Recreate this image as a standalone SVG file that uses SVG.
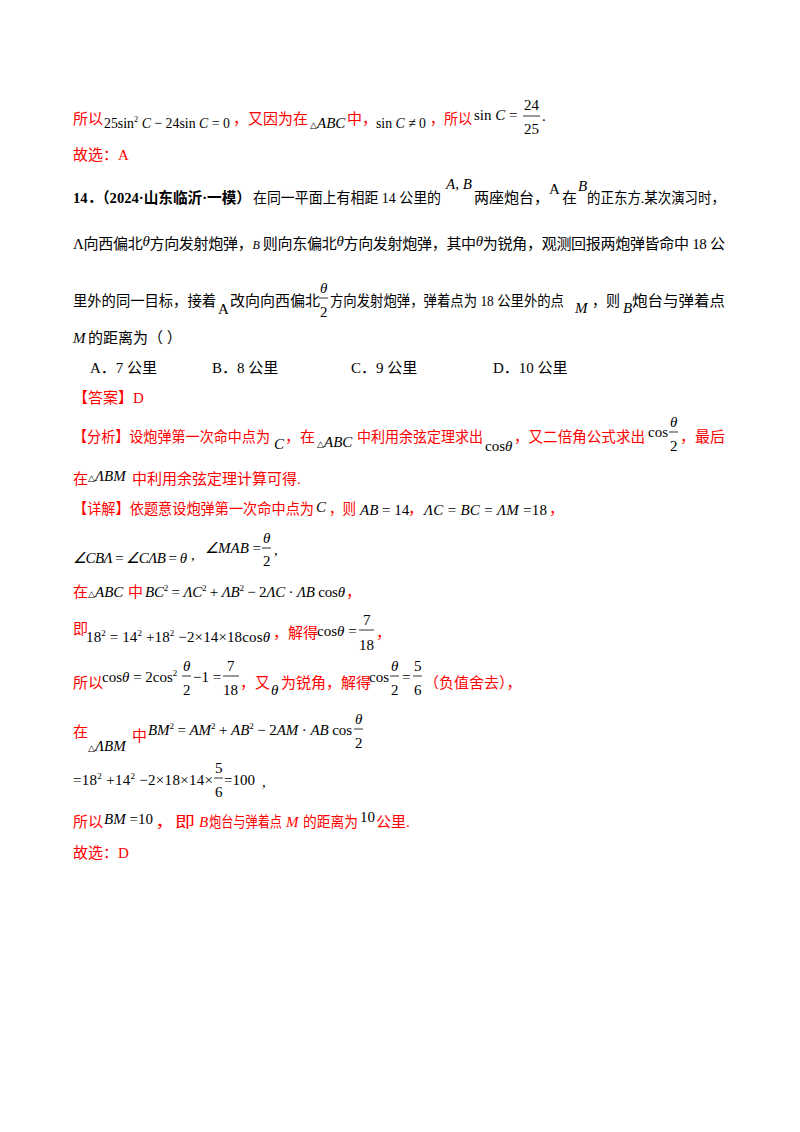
<svg xmlns="http://www.w3.org/2000/svg" width="800" height="1132" viewBox="0 0 800 1132">
<style>
text{font-family:"Liberation Serif","Noto Sans CJK SC",serif;font-size:15px;fill:#000}
.r{fill:#ff0000}
.m{font-family:"Liberation Serif",serif;font-style:italic}
.n{font-family:"Liberation Serif",serif;font-style:normal}
.s{font-size:9px}
.b{font-weight:bold}
line{stroke:#000;stroke-width:0.8}
</style>
<rect width="800" height="1132" fill="#fff"/>
<!-- line 1 -->
<text x="73" y="124" class="r">所以</text>
<text x="104" y="128" class="n" textLength="126" lengthAdjust="spacingAndGlyphs">25sin<tspan class="s" dy="-6">2</tspan><tspan dy="6" class="m"> C</tspan> − 24sin<tspan class="m"> C</tspan> = 0</text>
<text x="233" y="124" class="r">，又因为在</text>
<text x="310" y="128" class="m"><tspan class="s n">△</tspan>ABC</text>
<text x="347" y="124" class="r">中，</text>
<text x="376" y="128" class="n" textLength="50" lengthAdjust="spacingAndGlyphs">sin<tspan class="m"> C</tspan> ≠ 0</text>
<text x="430" y="124" class="r" textLength="42" lengthAdjust="spacingAndGlyphs">，所以</text>
<text x="474" y="120" class="n">sin<tspan class="m"> C</tspan> =</text>
<text x="524" y="110" class="n">24</text><line x1="523" y1="116" x2="540" y2="116"/><text x="524" y="134" class="n">25</text>
<text x="542" y="121" class="n">.</text>
<text x="73" y="160" class="r">故选：A</text>
<!-- question -->
<text x="73" y="203" class="b" textLength="178" lengthAdjust="spacingAndGlyphs">14．（2024·山东临沂·一模）</text>
<text x="253" y="203" textLength="188" lengthAdjust="spacingAndGlyphs">在同一平面上有相距 14 公里的</text>
<text x="446" y="189" class="m">A, B</text>
<text x="474" y="203">两座炮台，</text>
<text x="549" y="194" class="n" font-size="11">A</text>
<text x="562" y="203">在</text>
<text x="578" y="191" class="m" font-size="12">B</text>
<text x="587" y="203" textLength="138" lengthAdjust="spacingAndGlyphs">的正东方.某次演习时，</text>
<text x="73" y="249" textLength="652" lengthAdjust="spacing"><tspan class="n">Λ</tspan>向西偏北<tspan class="m" dy="-3">θ</tspan><tspan dy="3">方向发射炮弹，</tspan><tspan class="m" font-size="12">B</tspan> 则向东偏北<tspan class="m" dy="-3">θ</tspan><tspan dy="3">方向发射炮弹，其中</tspan><tspan class="m" dy="-3">θ</tspan><tspan dy="3">为锐角，观测回报两炮弹皆命中 18 公</tspan></text>
<text x="73" y="306" textLength="143" lengthAdjust="spacingAndGlyphs">里外的同一目标，接着</text>
<text x="218" y="314" class="n" font-size="11">A</text>
<text x="230" y="306">改向向西偏北</text>
<text x="320" y="293" class="m">θ</text><line x1="319" y1="298" x2="328" y2="298"/><text x="320" y="317" class="n">2</text>
<text x="330" y="306" textLength="234" lengthAdjust="spacingAndGlyphs">方向发射炮弹，弹着点为 18 公里外的点</text>
<text x="575" y="313" class="m">M</text>
<text x="592" y="306" textLength="28" lengthAdjust="spacingAndGlyphs">，则</text>
<text x="623" y="313" class="m" font-size="12">B</text>
<text x="632" y="306" textLength="93" lengthAdjust="spacingAndGlyphs">炮台与弹着点</text>
<text x="73" y="343" class="m">M</text>
<text x="88" y="343">的距离为（    ）</text>
<text x="90" y="373">A．7 公里</text>
<text x="212" y="373">B．8 公里</text>
<text x="351" y="373">C．9 公里</text>
<text x="493" y="373">D．10 公里</text>
<text x="73" y="403" class="r">【答案】D</text>
<!-- analysis -->
<text x="73" y="442" class="r" textLength="197" lengthAdjust="spacingAndGlyphs">【分析】设炮弹第一次命中点为</text>
<text x="274" y="449" class="m">C</text>
<text x="285" y="442" class="r">，在</text>
<text x="317" y="447" class="m"><tspan class="s n">△</tspan>ABC</text>
<text x="357" y="442" class="r" textLength="126" lengthAdjust="spacingAndGlyphs">中利用余弦定理求出</text>
<text x="485" y="451" class="n">cos<tspan class="m">θ</tspan></text>
<text x="514" y="442" class="r" textLength="131" lengthAdjust="spacingAndGlyphs">，又二倍角公式求出</text>
<text x="648" y="437" class="n">cos</text>
<text x="670" y="427" class="m">θ</text><line x1="669" y1="432" x2="678" y2="432"/><text x="670" y="451" class="n">2</text>
<text x="680" y="442" class="r">，最后</text>
<text x="73" y="484" class="r">在</text>
<text x="88" y="481" class="m"><tspan class="s n">△</tspan>ΛBM</text>
<text x="132" y="484" class="r">中利用余弦定理计算可得.</text>
<!-- detail -->
<text x="73" y="514" class="r" textLength="241" lengthAdjust="spacingAndGlyphs">【详解】依题意设炮弹第一次命中点为</text>
<text x="316" y="512" class="m">C</text>
<text x="329" y="514" class="r" textLength="27" lengthAdjust="spacingAndGlyphs">，则</text>
<text x="360" y="515" class="m">AB<tspan class="n"> = 14</tspan></text>
<text x="408" y="514" class="r">，</text>
<text x="424" y="515" class="m" textLength="123" lengthAdjust="spacing">ΛC<tspan class="n"> = </tspan>BC<tspan class="n"> = </tspan>ΛM<tspan class="n"> =18</tspan></text>
<text x="549" y="514" class="r">，</text>
<text x="73" y="563" class="m" textLength="114" lengthAdjust="spacing">∠CBΛ<tspan class="n"> = </tspan>∠CΛB<tspan class="n"> = </tspan>θ</text>
<text x="191" y="560" class="n">,</text>
<text x="205" y="553" class="m">∠MAB<tspan class="n"> =</tspan></text>
<text x="263" y="543" class="m">θ</text><line x1="262" y1="548" x2="271" y2="548"/><text x="263" y="566" class="n">2</text>
<text x="274" y="555" class="n">,</text>
<text x="73" y="597" class="r">在</text>
<text x="88" y="597" class="m"><tspan class="s n">△</tspan>ABC</text>
<text x="128" y="597" class="r">中</text>
<text x="145" y="597" class="m" textLength="200" lengthAdjust="spacing">BC<tspan class="s n" dy="-6">2</tspan><tspan class="n" dy="6"> = </tspan>ΛC<tspan class="s n" dy="-6">2</tspan><tspan class="n" dy="6"> + </tspan>ΛB<tspan class="s n" dy="-6">2</tspan><tspan class="n" dy="6"> − 2</tspan>ΛC<tspan class="n"> · </tspan>ΛB<tspan class="n"> cos</tspan>θ</text>
<text x="346" y="597" class="r">，</text>
<text x="73" y="634" class="r">即</text>
<text x="86" y="642" class="n" textLength="184" lengthAdjust="spacing">18<tspan class="s" dy="-6">2</tspan><tspan dy="6"> = 14</tspan><tspan class="s" dy="-6">2</tspan><tspan dy="6"> +18</tspan><tspan class="s" dy="-6">2</tspan><tspan dy="6"> −2×14×18cos</tspan><tspan class="m">θ</tspan></text>
<text x="273" y="638" class="r">，解得</text>
<text x="317" y="636" class="n">cos<tspan class="m">θ</tspan> =</text>
<text x="363" y="625" class="n">7</text><line x1="359" y1="630" x2="374" y2="630"/><text x="359" y="650" class="n">18</text>
<text x="376" y="638" class="r">，</text>
<text x="73" y="688" class="r">所以</text>
<text x="102" y="682" class="n">cos<tspan class="m">θ</tspan> = 2cos<tspan class="s" dy="-6">2</tspan></text>
<text x="183" y="671" class="m">θ</text><line x1="182" y1="676" x2="191" y2="676"/><text x="183" y="695" class="n">2</text>
<text x="193" y="682" class="n">−1 =</text>
<text x="227" y="671" class="n">7</text><line x1="223" y1="676" x2="239" y2="676"/><text x="223" y="695" class="n">18</text>
<text x="240" y="688" class="r">，又</text>
<text x="271" y="695" class="m">θ</text>
<text x="281" y="688" class="r">为锐角，解得</text>
<text x="369" y="682" class="n">cos</text>
<text x="391" y="671" class="m">θ</text><line x1="390" y1="676" x2="399" y2="676"/><text x="391" y="695" class="n">2</text>
<text x="402" y="682" class="n">=</text>
<text x="414" y="671" class="n">5</text><line x1="413" y1="676" x2="422" y2="676"/><text x="414" y="695" class="n">6</text>
<text x="424" y="688" class="r">（负值舍去），</text>
<text x="73" y="737" class="r">在</text>
<text x="88" y="751" class="m"><tspan class="s n">△</tspan>ΛBM</text>
<text x="132" y="741" class="r">中</text>
<text x="148" y="735" class="m" textLength="204" lengthAdjust="spacing">BM<tspan class="s n" dy="-6">2</tspan><tspan class="n" dy="6"> = </tspan>AM<tspan class="s n" dy="-6">2</tspan><tspan class="n" dy="6"> + </tspan>AB<tspan class="s n" dy="-6">2</tspan><tspan class="n" dy="6"> − 2</tspan>AM<tspan class="n"> · </tspan>AB<tspan class="n"> cos</tspan></text>
<text x="355" y="724" class="m">θ</text><line x1="354" y1="729" x2="363" y2="729"/><text x="355" y="748" class="n">2</text>
<text x="73" y="785" class="n" textLength="140" lengthAdjust="spacing">=18<tspan class="s" dy="-6">2</tspan><tspan dy="6"> +14</tspan><tspan class="s" dy="-6">2</tspan><tspan dy="6"> −2×18×14×</tspan></text>
<text x="215" y="773" class="n">5</text><line x1="214" y1="778" x2="223" y2="778"/><text x="215" y="797" class="n">6</text>
<text x="224" y="785" class="n">=100</text>
<text x="262" y="787" class="n">,</text>
<text x="73" y="827" class="r">所以</text>
<text x="104" y="824" class="m">BM<tspan class="n"> =10</tspan></text>
<text x="155" y="827" class="r" textLength="40" lengthAdjust="spacingAndGlyphs">，即</text>
<text x="199" y="827" class="m r" font-size="12">B</text>
<text x="209" y="827" class="r" textLength="73" lengthAdjust="spacingAndGlyphs">炮台与弹着点</text>
<text x="286" y="827" class="m r">M</text>
<text x="303" y="827" class="r" textLength="55" lengthAdjust="spacingAndGlyphs">的距离为</text>
<text x="360" y="822" class="n">10</text>
<text x="376" y="827" class="r">公里.</text>
<text x="73" y="858" class="r">故选：D</text>
</svg>
